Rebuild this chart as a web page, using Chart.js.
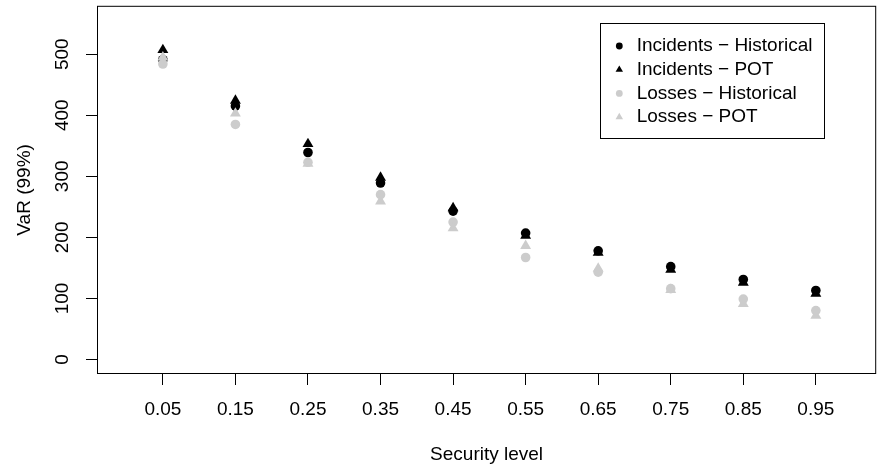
<!DOCTYPE html>
<html><head><meta charset="utf-8">
<script src="https://cdn.jsdelivr.net/npm/chart.js@4.4.1/dist/chart.umd.min.js"></script>
<style>html,body{margin:0;padding:0;background:#fff}#wrap{width:882px;height:470px}</style>
</head><body><div id="wrap"><canvas id="c" width="882" height="470"></canvas></div>
<script>
// ---- data ----
const securityLevels = [0.05, 0.15, 0.25, 0.35, 0.45, 0.55, 0.65, 0.75, 0.85, 0.95];
const incidentsHistorical = [491, 415, 339, 289, 243, 207, 178, 152, 131, 113];
const incidentsPOT        = [507, 424, 353, 298, 248, 203, 175, 147, 126, 108];
const lossesHistorical    = [484, 385, 323, 270, 225, 167, 143, 116, 99, 80];
const lossesPOT           = [495, 403, 321, 259, 215, 186, 149, 114, 91, 72];
const seriesNames = ['Incidents \u2212 Historical', 'Incidents \u2212 POT', 'Losses \u2212 Historical', 'Losses \u2212 POT'];
const xTickValues = securityLevels;
const xTickLabels = ['0.05', '0.15', '0.25', '0.35', '0.45', '0.55', '0.65', '0.75', '0.85', '0.95'];
const yTickValues = [0, 100, 200, 300, 400, 500];
const yTickLabels = ['0', '100', '200', '300', '400', '500'];
const xTitle = 'Security level';
const yTitle = 'VaR (99%)';

// ---- styles ----
const FONT = '"Liberation Sans", Arial, Helvetica, sans-serif';
const FS = 19;
const BLACK = '#000000';
const GREY = '#CCCCCC';

function pts(vals){ return securityLevels.map((x,i)=>({x:x, y:vals[i]})); }

const seriesValues = [incidentsHistorical, incidentsPOT, lossesHistorical, lossesPOT];
const seriesColors = [BLACK, BLACK, GREY, GREY];
const seriesShapes = ['circle', 'triangle', 'circle', 'triangle'];

const datasets = seriesValues.map((v,i)=>({
  label: seriesNames[i],
  data: pts(v),
  showLine: false,
  pointStyle: seriesShapes[i],
  pointRadius: seriesShapes[i]==='circle' ? 4.8 : 6.3,
  pointBackgroundColor: seriesColors[i],
  pointBorderColor: seriesColors[i],
  pointBorderWidth: 0,
  order: 4 - i
}));

const boxPlugin = {
  id: 'boxAndLabels',
  afterDraw(chart){
    const ctx = chart.ctx, a = chart.chartArea;
    ctx.save();
    ctx.strokeStyle = BLACK; ctx.lineWidth = 1;
    ctx.strokeRect(a.left, a.top, a.right - a.left, a.bottom - a.top);
    ctx.fillStyle = BLACK;
    ctx.font = FS + 'px ' + FONT;
    // y tick labels rotated (R style)
    const ys = chart.scales.y;
    ctx.textAlign = 'center'; ctx.textBaseline = 'middle';
    yTickValues.forEach((v,i)=>{
      const py = ys.getPixelForValue(v);
      ctx.save(); ctx.translate(63, py); ctx.rotate(-Math.PI/2);
      ctx.fillText(yTickLabels[i], 0, 0); ctx.restore();
    });
    // x tick labels
    const xs = chart.scales.x;
    xTickValues.forEach((v,i)=>{
      ctx.fillText(xTickLabels[i], xs.getPixelForValue(v), 409.5);
    });
    // legend
    const lx = 600.5, ly = 23.5, lw = 224, lh = 115;
    ctx.strokeRect(lx, ly, lw, lh);
    ctx.textAlign = 'left';
    chart.data.datasets.forEach((ds,i)=>{
      const cy = 46 + i*23.7;
      ctx.fillStyle = ds.pointBackgroundColor;
      ctx.beginPath();
      if (ds.pointStyle==='circle') { ctx.arc(619.3, cy, 3.4, 0, Math.PI*2); }
      else { const r=4.3; ctx.moveTo(619.3, cy-r); ctx.lineTo(619.3+r*0.866, cy+r/2); ctx.lineTo(619.3-r*0.866, cy+r/2); ctx.closePath(); }
      ctx.fill();
      ctx.fillStyle = BLACK;
      ctx.fillText(ds.label, 636.7, cy);
    });
    ctx.restore();
  }
};

new Chart(document.getElementById('c'), {
  type: 'scatter',
  data: { datasets },
  options: {
    responsive: false, animation: false, devicePixelRatio: 1,
    layout: { padding: { left: 0, right: 1.5, top: 5.5, bottom: 0 } },
    plugins: { legend: { display: false }, tooltip: { enabled: false } },
    scales: {
      x: {
        type: 'linear', min: -0.0401, max: 1.0325,
        afterBuildTicks: s => { s.ticks = xTickValues.map(v=>({value:v})); },
        afterFit: s => { s.height = 96.5; },
        ticks: { display: false },
        grid: { drawOnChartArea: false, drawTicks: true, tickLength: 11.5, tickColor: BLACK, tickWidth: 1 },
        border: { display: false },
        title: { display: true, text: xTitle, color: BLACK, font: { family: FONT, size: FS }, padding: { top: 0, bottom: 3.5 } }
      },
      y: {
        type: 'linear', min: -23.0, max: 578.5,
        afterBuildTicks: s => { s.ticks = yTickValues.map(v=>({value:v})); },
        afterFit: s => { s.width = 97.5; },
        ticks: { display: false },
        grid: { drawOnChartArea: false, drawTicks: true, tickLength: 11.5, tickColor: BLACK, tickWidth: 1 },
        border: { display: false },
        title: { display: true, text: yTitle, color: BLACK, font: { family: FONT, size: FS }, padding: { top: 13.5, bottom: 0 } }
      }
    }
  },
  plugins: [boxPlugin]
});
</script>
</body></html>
